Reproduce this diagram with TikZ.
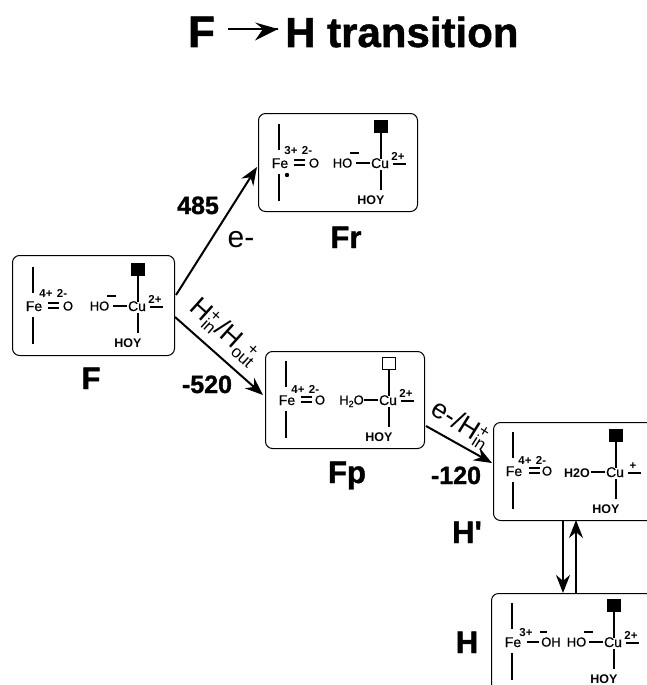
\documentclass[tikz,border=0pt]{standalone}
\usepackage{fontspec}
\setmainfont{Liberation Sans}
\newfontfamily\hvy[BoldFeatures={FakeBold=1.2},FakeBold=0.5]{Liberation Sans}
\usetikzlibrary{arrows.meta}
\newcommand{\fsz}[1]{\fontsize{#1}{#1}\selectfont}
\tikzset{
  x=1pt,y=-1pt,
  box/.style={draw=black,line width=1pt,rounded corners=7pt,inner sep=0pt,anchor=north west},
  bond/.style={line width=1.3pt,line cap=butt},
  febond/.style={line width=2pt},
  atom/.style={inner sep=0pt,anchor=base,font=\hvy\fsz{14}},
  atoms/.style={inner sep=0pt,anchor=base,font=\hvy\fsz{13}},
  chg/.style={inner sep=0pt,anchor=base,font=\fsz{11.5}\bfseries},
  hoy/.style={inner sep=0pt,anchor=base,font=\fsz{12.5}\bfseries},
  big/.style={inner sep=0pt,anchor=base,font=\hvy\fsz{31}\bfseries},
  num/.style={inner sep=0pt,anchor=base,font=\hvy\fsz{25}\bfseries},
  lab/.style={inner sep=0pt,font=\fsz{27}},
  rx/.style={line width=2pt,-{Stealth[length=18pt,width=14pt]}},
}
% Fe side: #1 prefix, #2 Fe centre x, #3 centre y
\newcommand{\feaxis}[3]{%
  \begin{scope}[shift={(#2,#3)}]
    \coordinate (#1a) at (-1,-39); \coordinate (#1b) at (-1,-13);
    \coordinate (#1c) at (-1,11); \coordinate (#1d) at (-1,38);
    \draw[febond] (#1a) -- (#1b);
    \draw[febond] (#1c) -- (#1d);
    \node[atom] (#1fe) at (0,5) {Fe};
  \end{scope}}
% Cu side: #1 prefix, #2 Cu centre x, #3 centre y, #4 square fill, #5 charge
\newcommand{\cusite}[5]{%
  \begin{scope}[shift={(#2,#3)}]
    \coordinate (#1p) at (1,-30); \coordinate (#1q) at (1,-4);
    \coordinate (#1r) at (1,7); \coordinate (#1s) at (1,27);
    \coordinate (#1t) at (-24,0); \coordinate (#1u) at (-10,0);
    \coordinate (#1v) at (13,1); \coordinate (#1w) at (26,1);
    \draw[line width=1pt,fill=#4] (-6,-43) rectangle (7,-31);
    \draw[bond] (#1p) -- (#1q);
    \draw[bond] (#1r) -- (#1s);
    \draw[bond] (#1t) -- (#1u);
    \draw[bond] (#1v) -- (#1w);
    \node[atom] (#1cu) at (0,5) {Cu};
    \node[chg] (#1cg) at (18,-3) {#5};
    \node[hoy] (#1hoy) at (-9,41) {HOY};
  \end{scope}}
\newcommand{\hoion}[3]{%
  \begin{scope}[shift={(#2,#3)}]
    \node[atoms] (#1ho) at (-37.5,4.5) {HO};
    \coordinate (#1m) at (-30,-10); \coordinate (#1n) at (-21,-10);
    \draw[bond] (#1m) -- (#1n);
  \end{scope}}
\newcommand{\Hin}{H\rlap{\raisebox{8pt}{\fsz{17}+}}\raisebox{-5pt}{\fsz{17}in}}
\newcommand{\Hout}{H\rlap{\raisebox{8pt}{\hspace{10pt}\fsz{17}+}}\raisebox{-5pt}{\fsz{17}out}}
\begin{document}
\begin{tikzpicture}
\useasboundingbox (0,0) rectangle (647,685);
\clip (0,0) rectangle (647,685);
% title
\node[inner sep=0pt,anchor=base,font=\hvy\fsz{44}\bfseries] (t1) at (201.5,47) {F};
\node[inner sep=0pt,anchor=base west,font=\hvy\fsz{42}\bfseries] (t2) at (285,47) {H transition};
\coordinate (ta) at (228,29);
\coordinate (tb) at (278,29);
\draw[line width=1.6pt] (ta) -- (tb);
\fill (tb) -- (255,22.5) -- (263,29) -- (255,40.5) -- cycle;
% boxes
\node[box,minimum width=162pt,minimum height=100pt] (F) at (12,255) {};
\node[box,minimum width=159pt,minimum height=98pt] (Fr) at (258,113) {};
\node[box,minimum width=159pt,minimum height=97pt] (Fp) at (265,351) {};
\node[box,minimum width=170pt,minimum height=98pt] (Hp) at (493,422) {};
\node[box,minimum width=170pt,minimum height=110pt] (H) at (491,593) {};
% F
\feaxis{fa}{34}{306}
\node[chg] (fa1) at (46,297) {4+}; \node[chg] (fa2) at (62,297) {2-};
\draw[bond] (48,303) -- (59,303); \draw[bond] (48,308) -- (59,308);
\node[atoms] (fao) at (68,310.5) {O};
\cusite{fb}{137}{306}{black}{2+}
\hoion{fc}{137}{306}
% Fr
\feaxis{ra}{280}{163}
\node[chg] (ra1) at (291,154) {3+}; \node[chg] (ra2) at (307,154) {2-};
\draw[bond] (294,160) -- (305,160); \draw[bond] (294,165) -- (305,165);
\node[atoms] (rao) at (314,167.5) {O};
\fill (287,175) circle (2.2);
\cusite{rb}{380}{163}{black}{2+}
\hoion{rc}{380}{163}
% Fp
\feaxis{pa}{287}{400}
\node[chg] (pa1) at (298,393) {4+}; \node[chg] (pa2) at (314,393) {2-};
\draw[bond] (301,397) -- (312,397); \draw[bond] (301,402) -- (312,402);
\node[atoms] (pao) at (320,404.5) {O};
\cusite{pb}{388}{400}{white}{2+}
\node[atoms] (pw) at (351.5,404.5) {H\raisebox{-2.5pt}{\fsz{9}2}O};
% H'
\feaxis{qa}{514}{471}
\node[chg] (qa1) at (525,464) {4+}; \node[chg] (qa2) at (541,464) {2-};
\draw[bond] (529,468) -- (540,468); \draw[bond] (529,473) -- (540,473);
\node[atoms] (qao) at (547,475.5) {O};
\cusite{qb}{615}{472}{black}{+}
\node[hoy] (qw) at (577,477) {H2O};
% H
\feaxis{ha}{513}{642}
\node[chg] (ha1) at (526,636) {3+};
\draw[bond] (527,642) -- (539,642);
\draw[bond] (540,632) -- (547,632);
\node[atoms] (hao) at (551,646.5) {OH};
\cusite{hb}{613}{642}{black}{2+}
\hoion{hc}{614}{642}
% labels
\node[big] (lF) at (91,389) {F};
\node[big] (lFr) at (346,248) {Fr};
\node[big] (lFp) at (347,483) {Fp};
\node[big] (lHp) at (467,543) {H'};
\node[big] (lH) at (467,653) {H};
\node[num] (n1) at (198,214) {485};
\node[num] (n2) at (207,393) {-520};
\node[num] (n3) at (456,484) {-120};
\node[inner sep=0pt,anchor=base,font=\fsz{30}] (le) at (241,247) {e-};
\node[lab,rotate=-42] (l1) at (224.5,332) {\Hin/\Hout};
\node[lab,rotate=-32] (l2) at (461,424.5) {e-/\Hin};
% arrows
\coordinate (a1) at (176,295); \coordinate (a2) at (257,167);
\coordinate (b1) at (175,317); \coordinate (b2) at (263,395);
\coordinate (c1) at (426,426); \coordinate (c2) at (492,463);
\draw[rx] (a1) -- (a2);
\draw[rx] (b1) -- (b2);
\draw[rx] (c1) -- (c2);
\coordinate (d1) at (563,520); \coordinate (d2) at (563,593);
\coordinate (e1) at (576,593); \coordinate (e2) at (576,520);
\draw[rx] (d1) -- (d2);
\draw[rx] (e1) -- (e2);
\end{tikzpicture}
\end{document}
